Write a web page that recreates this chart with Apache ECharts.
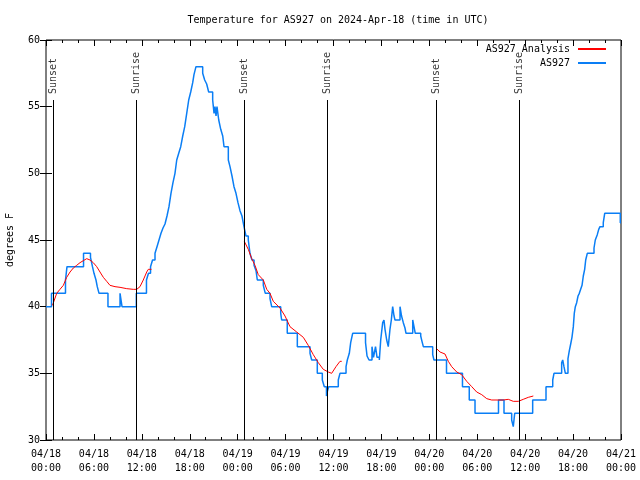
<!DOCTYPE html>
<html><head><meta charset="utf-8">
<script src="https://cdn.jsdelivr.net/npm/echarts@6/dist/echarts.min.js"></script>
<style>html,body{margin:0;padding:0;background:#fff}#c{width:640px;height:480px}</style>
</head><body><div id="c"></div>
<script>
// Hours since 2024-04-18 00:00 UTC
const tickDates = ['04/18','04/18','04/18','04/18','04/19','04/19','04/19','04/19','04/20','04/20','04/20','04/20','04/21'];
const tickTimes = ['00:00','06:00','12:00','18:00','00:00','06:00','12:00','18:00','00:00','06:00','12:00','18:00','00:00'];

const eventNames = ['Sunset','Sunrise','Sunset','Sunrise','Sunset','Sunrise'];
const eventHours = [0.91, 11.27, 24.83, 35.22, 48.83, 59.27];

// AS927 observations (value holds from the given hour until the next one)
const blueT = [0,0.69,2.44,2.63,4.70,5.57,5.82,6.01,6.26,6.42,6.64,7.76,9.27,9.52,11.31,12.58,12.83,13.09,13.34,13.65,13.90,14.15,14.40,14.65,14.90,15.15,15.40,15.65,15.90,16.15,16.37,16.62,16.87,17.12,17.37,17.62,17.87,18.12,18.37,18.53,18.78,19.62,19.87,20.12,20.37,20.87,21.04,21.16,21.29,21.41,21.63,21.88,22.13,22.29,22.83,23.04,23.29,23.54,23.79,24.04,24.29,24.54,24.79,25.04,25.33,25.54,25.79,26.05,26.30,26.46,27.21,27.46,28.05,28.26,29.39,29.51,30.21,31.47,33.06,33.27,33.97,34.60,34.85,35.12,35.25,35.40,36.60,36.81,37.57,37.73,37.98,38.15,38.40,40.01,40.20,40.45,40.82,41.01,41.26,41.45,41.74,41.91,42.16,42.32,42.45,42.66,42.86,43.07,43.24,43.41,43.58,43.70,44.33,44.52,44.74,44.95,45.08,45.92,46.08,46.24,46.92,47.08,47.25,48.42,48.58,50.15,52.15,53.00,53.72,56.66,57.35,58.31,58.51,58.69,60.94,62.61,63.45,63.61,64.57,64.70,64.86,65.03,65.36,65.53,65.70,65.86,66.03,66.15,66.28,66.45,66.62,66.78,66.95,67.12,67.28,67.45,67.58,67.78,68.62,68.78,69.03,69.21,69.37,69.78,69.96,71.91,72];
const blueV = [40,41,42,43,44,43.7,43,42.5,42,41.5,41,40,41,40,41,42,42.5,43,43.5,44,44.5,45,45.5,45.9,46.2,46.8,47.5,48.5,49.3,50,51,51.5,52,52.8,53.5,54.5,55.5,56.1,56.8,57.4,58,57.5,57,56.7,56.1,55.5,54.5,55,54.3,55,54,53.3,52.8,52,51,50.5,49.8,49,48.5,47.8,47.2,46.8,46,45.3,45,44,43.5,43.1,42.7,42,41.6,41,40.6,40,39.5,39,38,37,36.5,36,35,34.5,34,33.3,33.7,34,34.5,35,35.5,36,36.5,37.3,38,37.3,36.3,36,37,36.2,37,36.2,36,37.5,38.8,39,38.3,37.5,37,38.3,39,40,39.3,39,40,39.3,38.8,38.4,38,39,38.5,38,37.8,37.4,37,36.4,36,35,34,33,32,33,32,31.5,31,32,33,34,34.5,35,35.8,36,35.5,35,36.1,36.7,37.2,37.7,38.5,39.5,40,40.3,40.8,41,41.3,41.6,42.3,42.8,43.5,44,44.4,45,45.4,45.8,46,46.3,47,46.3,46.3];

// AS927 Analysis (null = gap between segments)
const redT = [0.81,1.34,1.75,2.17,2.59,3.01,3.42,3.84,4.26,4.67,5.10,5.51,5.92,6.35,6.76,7.18,7.60,8.01,8.64,9.27,10.11,10.93,11.36,11.77,12.18,12.61,12.81,13.21,null,
  24.83,25.33,25.76,26.17,26.58,27.21,27.64,28.05,28.46,29.30,29.93,30.55,31.39,32.22,32.84,33.47,34.10,34.72,35.35,35.77,36.31,36.81,37.03,null,
  48.83,49.34,49.96,50.38,50.80,51.43,52.05,52.68,53.31,53.93,54.56,55.19,55.81,57.26,57.89,58.51,59.14,59.76,60.39,61.02];
const redV = [40.1,41,41.3,41.6,42.2,42.6,42.9,43.1,43.3,43.45,43.6,43.5,43.3,43,42.6,42.2,41.9,41.6,41.5,41.45,41.35,41.3,41.3,41.5,42,42.6,42.8,42.8,null,
  44.9,44.3,43.6,43.1,42.4,42,41.3,41,40.4,39.9,39.3,38.5,38.1,37.7,37.1,36.4,35.8,35.3,35.1,35,35.5,35.9,35.9,null,
  36.9,36.6,36.45,35.9,35.5,35.1,34.9,34.4,34,33.6,33.4,33.1,33,33,33.05,32.9,32.9,33.05,33.2,33.3];

const FONT = 'DejaVu Sans Mono';
const blueData = blueT.map((t,i)=>[t, blueV[i]]);
const redData = redT.map((t,i)=> t===null ? ['-','-'] : [t, redV[i]]);
const eventData = eventHours.map((t,i)=>({value:[t,55.95], name:eventNames[i]}));
const eventLines = eventHours.map(t=>[{coord:[t,30]},{coord:[t,55.5]}]);

const chart = echarts.init(document.getElementById('c'), null, {renderer:'canvas'});
chart.setOption({
  animation:false,
  backgroundColor:'#fff',
  title:{text:'Temperature for AS927 on 2024-Apr-18 (time in UTC)', left:333, top:10, textAlign:'center',
    textStyle:{fontFamily:FONT, fontSize:10, fontWeight:'normal', color:'#000'}},
  legend:{data:['AS927 Analysis','AS927'], orient:'vertical', right:29, top:39, align:'right',
    itemWidth:28, itemHeight:2, itemGap:4, icon:'rect',
    textStyle:{fontFamily:FONT, fontSize:10, color:'#000', padding:[0,3,0,0]}},
  grid:{left:46, right:19, top:40, bottom:40, containLabel:false, outerBoundsMode:'none',
    show:true, borderColor:'#000', borderWidth:1, backgroundColor:'transparent'},
  xAxis:[{type:'value', min:0, max:72, interval:6, position:'bottom',
    axisLine:{show:false}, splitLine:{show:false},
    axisTick:{inside:true, length:6, lineStyle:{color:'#000'}},
    minorTick:{show:true, splitNumber:3, length:3, lineStyle:{color:'#000'}},
    axisLabel:{fontFamily:FONT, fontSize:10, color:'#000', margin:7, lineHeight:14,
      formatter:(v)=>{const i=Math.round(v/6); return tickDates[i]+'\n'+tickTimes[i];}}},
    {type:'value', min:0, max:72, interval:6, position:'top',
    axisLine:{show:false}, splitLine:{show:false}, axisLabel:{show:false},
    axisTick:{inside:true, length:6, lineStyle:{color:'#000'}},
    minorTick:{show:true, splitNumber:3, length:3, lineStyle:{color:'#000'}}}],
  yAxis:[{type:'value', min:30, max:60, interval:5, position:'left',
    name:'degrees F', nameLocation:'middle', nameRotate:90, nameGap:31,
    nameTextStyle:{fontFamily:FONT, fontSize:10, color:'#000'},
    axisLine:{show:false}, splitLine:{show:false},
    axisTick:{inside:true, length:6, lineStyle:{color:'#000'}},
    axisLabel:{fontFamily:FONT, fontSize:10, color:'#000', margin:6}},
    {type:'value', min:30, max:60, interval:5, position:'right',
    axisLine:{show:false}, splitLine:{show:false}, axisLabel:{show:false},
    axisTick:{inside:true, length:6, lineStyle:{color:'#000'}}}],
  series:[
    {name:'events', type:'scatter', data:eventData, symbolSize:0, silent:true,
      label:{show:true, formatter:(p)=>p.name, rotate:90, position:[0,0], align:'left', verticalAlign:'middle',
        fontFamily:FONT, fontSize:10, color:'#000'},
      markLine:{silent:true, symbol:['none','none'], label:{show:false},
        lineStyle:{color:'#000', width:1, type:'solid'}, data:eventLines}},
    {name:'AS927 Analysis', type:'line', data:redData, showSymbol:false, connectNulls:false,
      lineStyle:{color:'#ff0000', width:1}, itemStyle:{color:'#ff0000'}, z:4},
    {name:'AS927', type:'line', data:blueData, step:'end', showSymbol:false,
      lineStyle:{color:'#0a7ef5', width:1.5}, itemStyle:{color:'#0a7ef5'}, z:3}
  ]
});
</script></body></html>
